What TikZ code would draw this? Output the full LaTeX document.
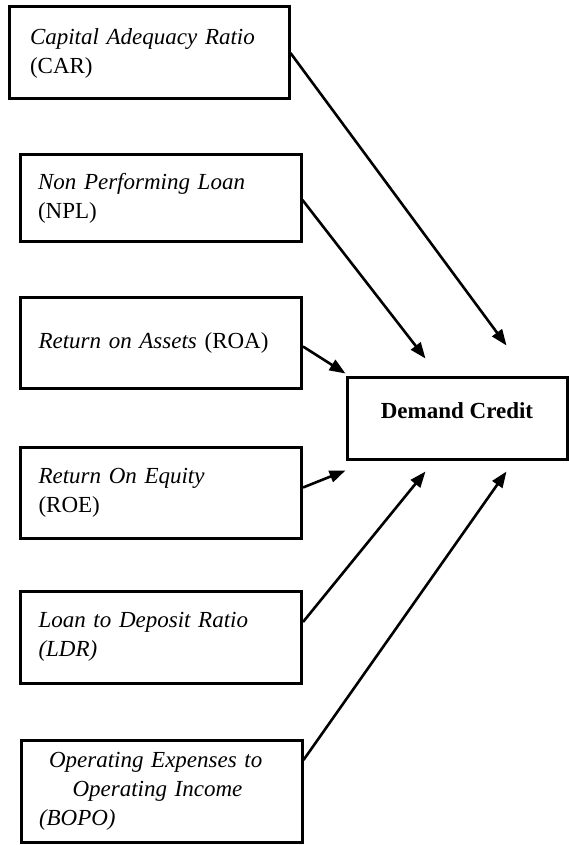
\documentclass[tikz,border=0pt]{standalone}
\usepackage{fontspec}
\setmainfont{Liberation Serif}
\usepackage{tikz}
\usetikzlibrary{arrows.meta}

\begin{document}
\begin{tikzpicture}[x=1pt, y=-1pt, line width=3pt,
    every node/.style={font=\fontsize{23}{29}\selectfont},
    var/.style={draw, rectangle, minimum width=281pt, text width=245pt, inner xsep=18pt, align=left},
    arr/.style={-{Triangle[length=16pt,width=12pt]}, line width=2.6pt}]
            \useasboundingbox (0,0) rectangle (569,845);

            \node[var, minimum height=92pt, minimum width=280pt, text width=238pt, inner xsep=21pt] at (149,53) (car) {\textit{Capital Adequacy Ratio}\\(CAR)};
            \node[var, minimum height=86pt] at (160.5,198) (npl) {\textit{Non Performing Loan}\\(NPL)};
            \node[var, minimum height=91pt] at (161,342.5) (roa) {\raisebox{-8pt}{\textit{Return on Assets} (ROA)}};
            \node[var, minimum height=91pt] at (161,492.5) (roe) {\textit{Return On Equity}\\(ROE)};
            \node[var, minimum height=92pt] at (161,637) (ldr) {\textit{Loan to Deposit Ratio}\\\textit{(LDR)}};
            \node[var, minimum height=102pt] at (161.5,791) (bopo) {\makebox[245pt]{\makebox[225pt][s]{\itshape Operating Expenses to}}\\\makebox[245pt]{\makebox[178pt][s]{\itshape Operating Income}}\\\textit{(BOPO)}};
            \node[draw, rectangle, minimum width=220pt, minimum height=82pt] at (457,418) (dc) {\raisebox{14pt}{\textbf{Demand Credit}}};

            % arrow tips stop short of the box
            \coordinate (tcar)  at ([xshift=161pt, yshift=30pt]dc.north west);
            \coordinate (tnpl)  at ([xshift=80pt, yshift=17pt]dc.north west);
            \coordinate (troa)  at ([yshift=2pt]dc.north west);
            \coordinate (troe)  at ([yshift=-10pt]dc.south west);
            \coordinate (tldr)  at ([xshift=80pt, yshift=-11pt]dc.south west);
            \coordinate (tbopo) at ([xshift=161pt, yshift=-11pt]dc.south west);

            \draw [arr] (car.east) -- (tcar);
            \draw [arr] ([yshift=-2pt]npl.east) -- (tnpl);
            \draw [arr] ([yshift=-4pt]roa.east) -- (troa);
            \draw [arr] ([yshift=5pt]roe.east) -- (troe);
            \draw [arr] ([yshift=15pt]ldr.east) -- (tldr);
            \draw [arr] ([yshift=31pt]bopo.east) -- (tbopo);
        \end{tikzpicture}
\end{document}
